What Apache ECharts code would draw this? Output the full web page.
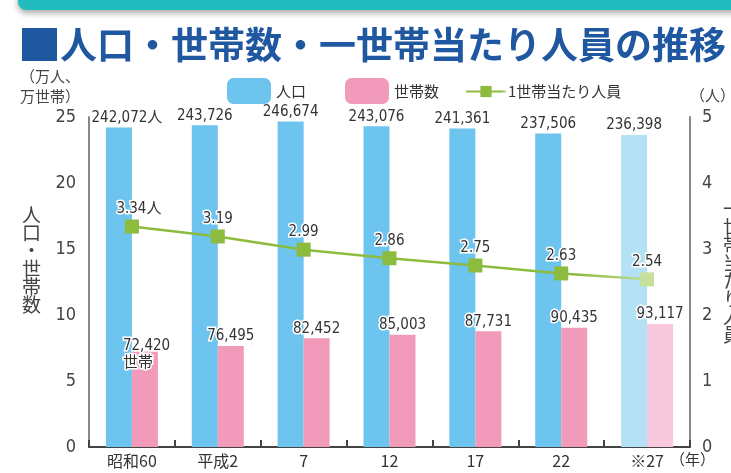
<!DOCTYPE html>
<html>
<head>
<meta charset="utf-8">
<script src="https://cdn.jsdelivr.net/npm/echarts@6/dist/echarts.min.js"></script>
<style>
  html, body { margin: 0; padding: 0; background: #fff; }
  #main { width: 731px; height: 473px; }
</style>
</head>
<body>
<div id="main"></div>
<script>
// 年（国勢調査）
const years = ['昭和60', '平成2', '7', '12', '17', '22', '※27'];
// 人口（人）
const population = [242072, 243726, 246674, 243076, 241361, 237506, 236398];
// 世帯数（世帯）
const households = [72420, 76495, 82452, 85003, 87731, 90435, 93117];
// 1世帯当たり人員（人）
const perHousehold = [3.34, 3.19, 2.99, 2.86, 2.75, 2.63, 2.54];
const leftTicks = [0, 5, 10, 15, 20, 25];
const rightTicks = [0, 1, 2, 3, 4, 5];

const numFont = "'Liberation Sans Narrow', 'DejaVu Sans Condensed', 'Noto Sans CJK JP', sans-serif";
const jpFont = "'Noto Sans CJK JP', sans-serif";
const fmt = v => v.toLocaleString('en-US');

const chartDom = document.getElementById('main');
const myChart = echarts.init(chartDom);

const labelBase = {
    show: true,
    position: 'top',
    distance: 2,
    fontFamily: numFont,
    fontSize: 15,
    color: '#333',
    textBorderColor: '#fff',
    textBorderWidth: 3
};

const popData = population.map((v, i) => {
    const item = { value: v / 10000 };
    if (i === population.length - 1) item.itemStyle = { color: '#b5e1f6' };
    if (i === 0) item.label = { formatter: fmt(v) + '人', offset: [8, 0] };
    return item;
});
const hhData = households.map((v, i) => {
    const item = { value: v / 10000 };
    if (i === households.length - 1) item.itemStyle = { color: '#f8c9dc' };
    if (i === 0) item.label = { formatter: fmt(v) + '\n世帯', align: 'left', offset: [-22, 22], lineHeight: 17 };
    return item;
});
const lineData = perHousehold.map((v, i) => {
    const item = { value: v };
    if (i === perHousehold.length - 1) item.itemStyle = { color: '#c6e09b' };
    if (i === 0) item.label = { formatter: v.toFixed(2) + '人', offset: [7, 0] };
    return item;
});

const option = {
    animation: false,
    grid: { left: 89, right: 41, top: 117, bottom: 26 },
    legend: [
        { data: ['人口'], left: 222, top: 73, itemWidth: 44, itemHeight: 26, itemGap: 0,
          textStyle: { fontFamily: jpFont, fontSize: 15, color: '#333' } },
        { data: ['世帯数'], left: 340, top: 73, itemWidth: 44, itemHeight: 26, itemGap: 0,
          textStyle: { fontFamily: jpFont, fontSize: 15, color: '#333' } },
        { data: ['1世帯当たり人員'], left: 460, top: 79, itemWidth: 40, itemHeight: 14, itemGap: 0,
          textStyle: { fontFamily: jpFont, fontSize: 15, color: '#333', padding: [0, 0, 0, -3] } }
    ],
    xAxis: {
        type: 'category',
        data: years,
        axisLine: { lineStyle: { color: '#444', width: 2 } },
        axisTick: { show: true, inside: true, length: 7, lineStyle: { color: '#444', width: 2 } },
        axisLabel: { fontFamily: jpFont, fontSize: 16, color: '#333', margin: 6 }
    },
    yAxis: [
        {
            type: 'value', min: 0, max: 25, interval: 5,
            axisLine: { show: true, lineStyle: { color: '#888', width: 2 } },
            axisTick: { show: false },
            splitLine: { show: false },
            axisLabel: { fontFamily: numFont, fontSize: 18, color: '#444', margin: 13,
                formatter: v => leftTicks.includes(v) ? String(v) : '' }
        },
        {
            type: 'value', min: 0, max: 5, interval: 1,
            axisLine: { show: true, lineStyle: { color: '#888', width: 2 } },
            axisTick: { show: false },
            splitLine: { show: false },
            axisLabel: { fontFamily: numFont, fontSize: 18, color: '#444', margin: 12,
                formatter: v => rightTicks.includes(v) ? String(v) : '' }
        }
    ],
    series: [
        {
            name: '人口', type: 'bar', data: popData,
            barWidth: 26, barGap: '0%',
            itemStyle: { color: '#6cc4ef' },
            label: Object.assign({}, labelBase, { formatter: p => fmt(population[p.dataIndex]) })
        },
        {
            name: '世帯数', type: 'bar', data: hhData,
            barWidth: 26, barGap: '0%',
            itemStyle: { color: '#f29aba' },
            label: Object.assign({}, labelBase, { formatter: p => fmt(households[p.dataIndex]) })
        },
        {
            name: '1世帯当たり人員', type: 'line', yAxisIndex: 1, data: lineData,
            symbol: 'rect', symbolSize: 14,
            lineStyle: {
                width: 2.5,
                color: new echarts.graphic.LinearGradient(0, 0, 1, 0, [
                    { offset: 0, color: '#8cbb3e' },
                    { offset: 0.86, color: '#8cbb3e' },
                    { offset: 1, color: '#c6e09b' }
                ])
            },
            itemStyle: { color: '#8cbb3e' },
            label: Object.assign({}, labelBase, { distance: 3, formatter: p => p.value.toFixed(2) }),
            z: 5
        }
    ],
    graphic: [
        { type: 'rect', shape: { x: 18, y: -12, width: 730, height: 22, r: 8 },
          style: { fill: '#21bdbe', shadowBlur: 6, shadowOffsetY: 3, shadowColor: 'rgba(0,0,0,0.35)' } },
        { type: 'rect', shape: { x: 22, y: 28, width: 35, height: 33 }, style: { fill: '#1f58a0' } },
        { type: 'text', x: 60, y: 45,
          style: { text: '人口・世帯数・一世帯当たり人員の推移', fill: '#1f58a0',
                   font: "bold 37px 'Noto Sans CJK JP'", verticalAlign: 'middle' } },
        { type: 'text', x: 20, y: 66,
          style: { text: '（万人、\n万世帯）', fill: '#444', font: "15px 'Noto Sans CJK JP'", lineHeight: 20 } },
        { type: 'text', x: 22, y: 206,
          style: { text: '人\n口\n・\n世\n帯\n数', fill: '#444', font: "19px 'Noto Sans CJK JP'", lineHeight: 18 } },
        { type: 'text', x: 690, y: 88,
          style: { text: '（人）', fill: '#444', font: "15px 'Noto Sans CJK JP'" } },
        { type: 'text', x: 723, y: 200,
          style: { text: '一\n世\n帯\n当\nた\nり\n人\n員', fill: '#444', font: "19px 'Noto Sans CJK JP'", lineHeight: 18 } },
        { type: 'text', x: 670, y: 452,
          style: { text: '（年）', fill: '#333', font: "15px 'Noto Sans CJK JP'" } }
    ]
};

option && myChart.setOption(option);
</script>
</body>
</html>
